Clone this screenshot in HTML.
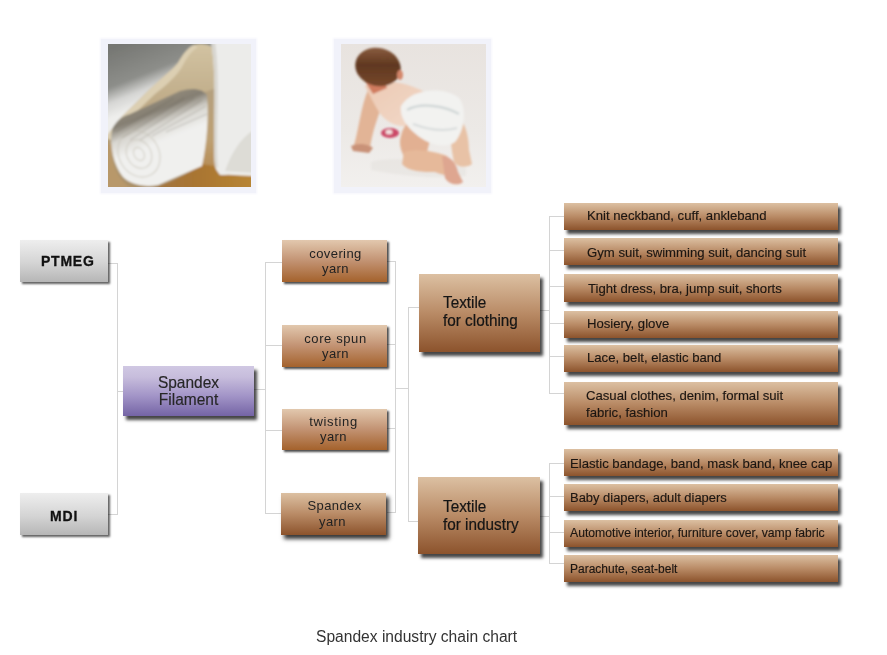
<!DOCTYPE html>
<html><head><meta charset="utf-8"><style>
html,body{margin:0;padding:0;background:#fff;}
body{width:887px;height:655px;position:relative;overflow:hidden;font-family:'Liberation Sans',sans-serif;}
.b,.t,.l,.ph{position:absolute;}
.t{white-space:nowrap;will-change:transform;}
.l{background:#d4d4d4;}
.ph{background:#f1f2fa;box-shadow:0 0 2px 1px #f6f6fc;}
.ph svg{position:absolute;display:block;}
</style></head><body>
<div class="ph" style="left:101px;top:39px;width:155px;height:154px"><svg style="left:7px;top:5px" width="143" height="143" viewBox="0 0 143 143">
<defs>
<linearGradient id="g1bg" gradientUnits="userSpaceOnUse" x1="20" y1="-2" x2="44" y2="58"><stop offset="0" stop-color="#767773"/><stop offset="0.55" stop-color="#8d8e8a"/><stop offset="0.78" stop-color="#d6d6d4"/><stop offset="1" stop-color="#eeeeec"/></linearGradient>
<linearGradient id="g1beige" x1="0" y1="0" x2="0" y2="1"><stop offset="0" stop-color="#d2c3a2"/><stop offset="0.5" stop-color="#bba682"/><stop offset="1" stop-color="#a88e66"/></linearGradient>
<linearGradient id="g1roll" gradientUnits="userSpaceOnUse" x1="46" y1="54" x2="62" y2="94"><stop offset="0" stop-color="#948c7c"/><stop offset="0.3" stop-color="#847e72"/><stop offset="0.62" stop-color="#d8d6d0"/><stop offset="1" stop-color="#f0f0ee"/></linearGradient>
<linearGradient id="g1or" x1="0" y1="0" x2="0" y2="1"><stop offset="0" stop-color="#b4a080"/><stop offset="0.6" stop-color="#bea072"/><stop offset="1" stop-color="#b48850"/></linearGradient>
<linearGradient id="g1fl" x1="0" y1="0" x2="1" y2="0"><stop offset="0" stop-color="#a07444"/><stop offset="0.5" stop-color="#aa7630"/><stop offset="1" stop-color="#b88636"/></linearGradient>
<filter id="f1"><feGaussianBlur stdDeviation="0.9"/></filter>
</defs>
<g filter="url(#f1)">
<rect x="-3" y="-3" width="149" height="149" fill="url(#g1bg)"/>
<path d="M-3,94 C5,84 10,77 14.5,72 L42,45 C55,33 65,25 70,19 C74,12 79,4 86,1 C92,-1 100,0 104,3 C110,40 110,80 106,125 L90,146 L-3,146 Z" fill="url(#g1beige)"/>
<path d="M-3,94 C5,84 10,77 14.5,72 L42,45 C55,33 65,25 70,19 C74,12 79,4 86,1 L90,3 C83,7 78,15 74,23 C69,31 60,40 47,50 L20,76 C13,83 7,90 3,96 Z" fill="#dccfb2"/>
<path d="M92,50 L108,44 L108,130 L92,124 Z" fill="url(#g1or)"/>
<path d="M40,146 C60,140 80,130 93,120 L106,122 L112,131 C125,130 135,132 146,132 L146,146 Z" fill="url(#g1fl)"/>
<path d="M-3,100 L4,100 C2,118 8,132 20,142 L40,146 L-3,146 Z" fill="#b8986a"/>
<path d="M4,86 C7,78 14,72 22,70 L72,47 C85,43 95,45 99,51 C101,70 99,100 94,122 L50,141 C36,144 22,140 15,133 C6,122 1,102 4,86 Z" fill="url(#g1roll)"/>
<g stroke="#5a564c" stroke-width="0.8" opacity="0.35" fill="none">
<path d="M8,88 L66,54"/><path d="M14,94 L76,54"/><path d="M22,96 L86,54"/><path d="M32,96 L94,56"/><path d="M44,92 L98,62"/><path d="M58,88 L99,70"/>
</g>
<g stroke="#c4c0b4" stroke-width="1.2" fill="none" opacity="0.6">
<ellipse cx="31" cy="110" rx="20" ry="24" transform="rotate(-30 31 110)"/>
<ellipse cx="31" cy="110" rx="12" ry="15" transform="rotate(-30 31 110)"/>
<ellipse cx="31" cy="110" rx="5" ry="7" transform="rotate(-30 31 110)"/>
</g>
<path d="M103,-3 L146,-3 L146,128 L122,129 C115,133 110,131 107,122 C104,90 110,40 103,-3 Z" fill="#ececea"/>
<path d="M103,-3 C110,40 104,90 107,122 L110,124 C107,92 113,40 107,-3 Z" fill="#d8d6d0"/>
<path d="M146,86 C132,94 123,110 117,127 L146,129 Z" fill="#dddcd6"/>
</g>
</svg>
</div>
<div class="ph" style="left:334px;top:39px;width:157px;height:154px"><svg style="left:7px;top:5px" width="145" height="143" viewBox="0 0 145 143">
<defs>
<linearGradient id="g2bg" x1="0" y1="0" x2="0" y2="1"><stop offset="0" stop-color="#e8e3df"/><stop offset="0.6" stop-color="#ece9e6"/><stop offset="1" stop-color="#f2f0ee"/></linearGradient>
<linearGradient id="g2hair" x1="0" y1="0" x2="0.3" y2="1"><stop offset="0" stop-color="#946648"/><stop offset="0.55" stop-color="#603820"/><stop offset="1" stop-color="#74462a"/></linearGradient>
<linearGradient id="g2skin" x1="0" y1="0" x2="1" y2="1"><stop offset="0" stop-color="#eccab4"/><stop offset="1" stop-color="#f2d8c8"/></linearGradient>
<filter id="f2"><feGaussianBlur stdDeviation="0.8"/></filter>
</defs>
<rect width="145" height="143" fill="url(#g2bg)"/>
<g filter="url(#f2)">
<path d="M30,118 C50,112 90,116 125,124 L125,132 C90,136 50,130 30,126 Z" fill="#dcd6d0" opacity="0.3"/>
<path d="M27,46 C20,62 18,84 13,101 L29,104 C31,90 36,74 42,60 Z" fill="#e2b496"/>
<path d="M10,102 C16,99 26,99 32,104 L28,109 L12,107 Z" fill="#c99278"/>
<path d="M24,42 C40,33 62,38 80,46 C90,52 86,72 74,80 C62,86 46,80 38,68 C33,60 28,50 24,42 Z" fill="url(#g2skin)"/>
<path d="M22,34 C30,28 42,32 46,44 L32,50 Z" fill="#d07c5e"/>
<ellipse cx="37" cy="23" rx="23" ry="19" transform="rotate(14 37 23)" fill="url(#g2hair)"/>
<ellipse cx="59" cy="31" rx="3" ry="5" fill="#d4866a"/>
<path d="M60,92 C62,82 70,72 80,74 L90,92 L86,108 L64,114 C59,106 58,98 60,92 Z" fill="#e2b092"/>
<path d="M63,108 C78,104 94,108 106,112 L116,130 C108,134 100,130 94,128 C82,128 68,128 61,120 Z" fill="#e6b99a"/>
<path d="M101,112 C109,112 115,118 117,128 L122,138 C118,142 108,141 104,134 Z" fill="#dea690"/>
<path d="M111,70 C120,70 128,86 128,106 L131,120 C126,124 117,124 113,118 C110,104 108,86 111,70 Z" fill="#e8c2a6"/>
<path d="M60,62 C70,44 104,42 118,54 C126,64 124,86 114,98 C106,104 92,102 80,94 C68,86 58,74 60,62 Z" fill="#f2f2f0"/>
<path d="M66,66 C80,58 104,62 118,70" stroke="#d2d8d8" stroke-width="2.5" fill="none"/>
<path d="M72,80 C88,86 102,88 116,84" stroke="#d8dcdc" stroke-width="2" fill="none"/>
<ellipse cx="49" cy="89" rx="9" ry="5" fill="#cc4a68"/>
<ellipse cx="48" cy="88" rx="3.5" ry="2.5" fill="#f2dede"/>
</g>
</svg>
</div>
<div class="l" style="left:108px;top:263px;width:9px;height:1px"></div>
<div class="l" style="left:117px;top:263px;width:1px;height:252px"></div>
<div class="l" style="left:108px;top:514px;width:9px;height:1px"></div>
<div class="l" style="left:117px;top:391px;width:6px;height:1px"></div>
<div class="l" style="left:254px;top:389px;width:11px;height:1px"></div>
<div class="l" style="left:265px;top:262px;width:1px;height:252px"></div>
<div class="l" style="left:265px;top:262px;width:17px;height:1px"></div>
<div class="l" style="left:265px;top:345px;width:17px;height:1px"></div>
<div class="l" style="left:265px;top:430px;width:17px;height:1px"></div>
<div class="l" style="left:265px;top:513px;width:17px;height:1px"></div>
<div class="l" style="left:387px;top:261px;width:8px;height:1px"></div>
<div class="l" style="left:387px;top:344px;width:8px;height:1px"></div>
<div class="l" style="left:387px;top:428px;width:8px;height:1px"></div>
<div class="l" style="left:387px;top:512px;width:8px;height:1px"></div>
<div class="l" style="left:395px;top:261px;width:1px;height:252px"></div>
<div class="l" style="left:395px;top:388px;width:13px;height:1px"></div>
<div class="l" style="left:408px;top:307px;width:1px;height:215px"></div>
<div class="l" style="left:408px;top:307px;width:11px;height:1px"></div>
<div class="l" style="left:408px;top:521px;width:10px;height:1px"></div>
<div class="l" style="left:540px;top:310px;width:9px;height:1px"></div>
<div class="l" style="left:549px;top:216px;width:1px;height:178px"></div>
<div class="l" style="left:549px;top:216px;width:15px;height:1px"></div>
<div class="l" style="left:549px;top:250px;width:15px;height:1px"></div>
<div class="l" style="left:549px;top:286px;width:15px;height:1px"></div>
<div class="l" style="left:549px;top:323px;width:15px;height:1px"></div>
<div class="l" style="left:549px;top:356px;width:15px;height:1px"></div>
<div class="l" style="left:549px;top:393px;width:15px;height:1px"></div>
<div class="l" style="left:540px;top:516px;width:9px;height:1px"></div>
<div class="l" style="left:549px;top:463px;width:1px;height:101px"></div>
<div class="l" style="left:549px;top:463px;width:15px;height:1px"></div>
<div class="l" style="left:549px;top:496px;width:15px;height:1px"></div>
<div class="l" style="left:549px;top:532px;width:15px;height:1px"></div>
<div class="l" style="left:549px;top:563px;width:15px;height:1px"></div>
<div class="b" style="left:19.5px;top:240px;width:88px;height:42px;background:linear-gradient(#eeeeee,#d4d4d4 55%,#b6b6b6);box-shadow:2px 2px 2px rgba(0,0,0,0.62)"></div>
<div class="b" style="left:19.5px;top:493px;width:88px;height:42px;background:linear-gradient(#eeeeee,#d4d4d4 55%,#b6b6b6);box-shadow:2px 2px 2px rgba(0,0,0,0.62)"></div>
<div class="b" style="left:123px;top:366px;width:131px;height:50px;background:linear-gradient(#d0c8e3,#c7bddc 22%,#a294c7 60%,#7464a5);box-shadow:3px 4px 3px rgba(0,0,0,0.72)"></div>
<div class="b" style="left:282px;top:240px;width:105px;height:42px;background:linear-gradient(#e2c8ae,#c29272 50%,#a4622c);box-shadow:2px 2px 2px rgba(0,0,0,0.7)"></div>
<div class="b" style="left:282px;top:325px;width:105px;height:42px;background:linear-gradient(#e2c8ae,#c29272 50%,#a4622c);box-shadow:2px 2px 2px rgba(0,0,0,0.7)"></div>
<div class="b" style="left:282px;top:409px;width:105px;height:41px;background:linear-gradient(#e2c8ae,#c29272 50%,#a4622c);box-shadow:2px 2px 2px rgba(0,0,0,0.7)"></div>
<div class="b" style="left:281px;top:493px;width:105px;height:42px;background:linear-gradient(#dcc0a2,#b98b66 50%,#8c532c);box-shadow:3px 4px 4px rgba(0,0,0,0.78)"></div>
<div class="b" style="left:419px;top:274px;width:121px;height:78px;background:linear-gradient(#dcc0a2,#b98b66 50%,#8c532c);box-shadow:3px 4px 3px rgba(0,0,0,0.72)"></div>
<div class="b" style="left:418px;top:477px;width:122px;height:77px;background:linear-gradient(#dcc0a2,#b98b66 50%,#8c532c);box-shadow:3px 4px 3px rgba(0,0,0,0.72)"></div>
<div class="b" style="left:564px;top:203px;width:274px;height:27px;background:linear-gradient(#dcc0a2,#b98b66 50%,#8c532c);box-shadow:3px 4px 3px rgba(0,0,0,0.72)"></div>
<div class="b" style="left:564px;top:238px;width:274px;height:27px;background:linear-gradient(#dcc0a2,#b98b66 50%,#8c532c);box-shadow:3px 4px 3px rgba(0,0,0,0.72)"></div>
<div class="b" style="left:564px;top:274px;width:274px;height:28px;background:linear-gradient(#dcc0a2,#b98b66 50%,#8c532c);box-shadow:3px 4px 3px rgba(0,0,0,0.72)"></div>
<div class="b" style="left:564px;top:311px;width:274px;height:27px;background:linear-gradient(#dcc0a2,#b98b66 50%,#8c532c);box-shadow:3px 4px 3px rgba(0,0,0,0.72)"></div>
<div class="b" style="left:564px;top:345px;width:274px;height:27px;background:linear-gradient(#dcc0a2,#b98b66 50%,#8c532c);box-shadow:3px 4px 3px rgba(0,0,0,0.72)"></div>
<div class="b" style="left:564px;top:382px;width:274px;height:43px;background:linear-gradient(#dcc0a2,#b98b66 50%,#8c532c);box-shadow:3px 4px 3px rgba(0,0,0,0.72)"></div>
<div class="b" style="left:564px;top:449px;width:274px;height:27px;background:linear-gradient(#dcc0a2,#b98b66 50%,#8c532c);box-shadow:3px 4px 3px rgba(0,0,0,0.72)"></div>
<div class="b" style="left:564px;top:484px;width:274px;height:27px;background:linear-gradient(#dcc0a2,#b98b66 50%,#8c532c);box-shadow:3px 4px 3px rgba(0,0,0,0.72)"></div>
<div class="b" style="left:564px;top:520px;width:274px;height:27px;background:linear-gradient(#dcc0a2,#b98b66 50%,#8c532c);box-shadow:3px 4px 3px rgba(0,0,0,0.72)"></div>
<div class="b" style="left:564px;top:555px;width:274px;height:27px;background:linear-gradient(#dcc0a2,#b98b66 50%,#8c532c);box-shadow:3px 4px 3px rgba(0,0,0,0.72)"></div>
<div class="t" style="left:41.3px;top:254.15px;font-size:14px;line-height:14px;font-weight:bold;color:#111;letter-spacing:0.75px;-webkit-text-stroke:0.3px #111;">PTMEG</div>
<div class="t" style="left:49.6px;top:508.95px;font-size:14px;line-height:14px;font-weight:bold;color:#111;letter-spacing:0.9px;-webkit-text-stroke:0.3px #111;">MDI</div>
<div class="t" style="left:123px;top:374.88px;font-size:15.5px;line-height:15.5px;width:131px;text-align:center;color:#262626;-webkit-text-stroke:0.15px #262626;transform:scaleY(1.08);transform-origin:0 13.12px;">Spandex</div>
<div class="t" style="left:123px;top:391.78px;font-size:15.5px;line-height:15.5px;width:131px;text-align:center;color:#262626;-webkit-text-stroke:0.15px #262626;transform:scaleY(1.08);transform-origin:0 13.12px;">Filament</div>
<div class="t" style="left:282.8px;top:246.90px;font-size:13px;line-height:13px;width:105px;text-align:center;color:#222;letter-spacing:0.4px;">covering</div>
<div class="t" style="left:282.8px;top:261.90px;font-size:13px;line-height:13px;width:105px;text-align:center;color:#222;letter-spacing:0.4px;">yarn</div>
<div class="t" style="left:282.8px;top:331.50px;font-size:13px;line-height:13px;width:105px;text-align:center;color:#222;letter-spacing:0.6px;">core spun</div>
<div class="t" style="left:282.8px;top:346.90px;font-size:13px;line-height:13px;width:105px;text-align:center;color:#222;letter-spacing:0.4px;">yarn</div>
<div class="t" style="left:281.2px;top:414.70px;font-size:13px;line-height:13px;width:105px;text-align:center;color:#222;letter-spacing:0.65px;">twisting</div>
<div class="t" style="left:280.8px;top:430.10px;font-size:13px;line-height:13px;width:105px;text-align:center;color:#222;letter-spacing:0.4px;">yarn</div>
<div class="t" style="left:281.8px;top:498.80px;font-size:13px;line-height:13px;width:105px;text-align:center;color:#222;letter-spacing:0.4px;">Spandex</div>
<div class="t" style="left:280.3px;top:515.10px;font-size:13px;line-height:13px;width:105px;text-align:center;color:#222;letter-spacing:0.4px;">yarn</div>
<div class="t" style="left:443.1px;top:295.35px;font-size:15.3px;line-height:15.3px;color:#151515;-webkit-text-stroke:0.2px #151515;transform:scaleY(1.07);transform-origin:0 12.95px;">Textile</div>
<div class="t" style="left:443.1px;top:312.85px;font-size:15.3px;line-height:15.3px;color:#151515;-webkit-text-stroke:0.2px #151515;transform:scaleY(1.07);transform-origin:0 12.95px;">for clothing</div>
<div class="t" style="left:443.1px;top:499.05px;font-size:15.3px;line-height:15.3px;color:#151515;-webkit-text-stroke:0.2px #151515;transform:scaleY(1.07);transform-origin:0 12.95px;">Textile</div>
<div class="t" style="left:443.1px;top:516.55px;font-size:15.3px;line-height:15.3px;color:#151515;-webkit-text-stroke:0.2px #151515;transform:scaleY(1.07);transform-origin:0 12.95px;">for industry</div>
<div class="t" style="left:587.0px;top:209.47px;font-size:13.15px;line-height:13.15px;color:#1c1612;-webkit-text-stroke:0.15px #1c1612;transform:scaleY(1.04);transform-origin:0 11.13px;">Knit neckband, cuff, ankleband</div>
<div class="t" style="left:587.0px;top:245.97px;font-size:13.15px;line-height:13.15px;color:#1c1612;-webkit-text-stroke:0.15px #1c1612;transform:scaleY(1.04);transform-origin:0 11.13px;">Gym suit, swimming suit, dancing suit</div>
<div class="t" style="left:587.5px;top:281.97px;font-size:13.15px;line-height:13.15px;color:#1c1612;-webkit-text-stroke:0.15px #1c1612;transform:scaleY(1.04);transform-origin:0 11.13px;">Tight dress, bra, jump suit, shorts</div>
<div class="t" style="left:587.0px;top:317.07px;font-size:13.15px;line-height:13.15px;color:#1c1612;-webkit-text-stroke:0.15px #1c1612;transform:scaleY(1.04);transform-origin:0 11.13px;">Hosiery, glove</div>
<div class="t" style="left:586.5px;top:351.47px;font-size:13.15px;line-height:13.15px;color:#1c1612;-webkit-text-stroke:0.15px #1c1612;transform:scaleY(1.04);transform-origin:0 11.13px;">Lace, belt, elastic band</div>
<div class="t" style="left:585.7px;top:389.37px;font-size:13.15px;line-height:13.15px;color:#1c1612;-webkit-text-stroke:0.15px #1c1612;transform:scaleY(1.04);transform-origin:0 11.13px;">Casual clothes, denim, formal suit</div>
<div class="t" style="left:585.7px;top:405.87px;font-size:13.15px;line-height:13.15px;color:#1c1612;-webkit-text-stroke:0.15px #1c1612;transform:scaleY(1.04);transform-origin:0 11.13px;">fabric, fashion</div>
<div class="t" style="left:569.5px;top:457.27px;font-size:13.15px;line-height:13.15px;color:#1c1612;-webkit-text-stroke:0.15px #1c1612;transform:scaleY(1.04);transform-origin:0 11.13px;">Elastic bandage, band, mask band, knee cap</div>
<div class="t" style="left:570.2px;top:491.64px;font-size:12.95px;line-height:12.95px;color:#1c1612;-webkit-text-stroke:0.15px #1c1612;transform:scaleY(1.04);transform-origin:0 10.96px;">Baby diapers, adult diapers</div>
<div class="t" style="left:569.9000000000001px;top:527.37px;font-size:12.2px;line-height:12.2px;color:#1c1612;-webkit-text-stroke:0.15px #1c1612;transform:scaleY(1.04);transform-origin:0 10.33px;">Automotive interior, furniture cover, vamp fabric</div>
<div class="t" style="left:570.2px;top:563.04px;font-size:12px;line-height:12px;color:#1c1612;-webkit-text-stroke:0.15px #1c1612;transform:scaleY(1.04);transform-origin:0 10.16px;">Parachute, seat-belt</div>
<div class="t" style="left:315.6px;top:629.29px;font-size:15.6px;line-height:15.6px;color:#333;">Spandex industry chain chart</div>
</body></html>
